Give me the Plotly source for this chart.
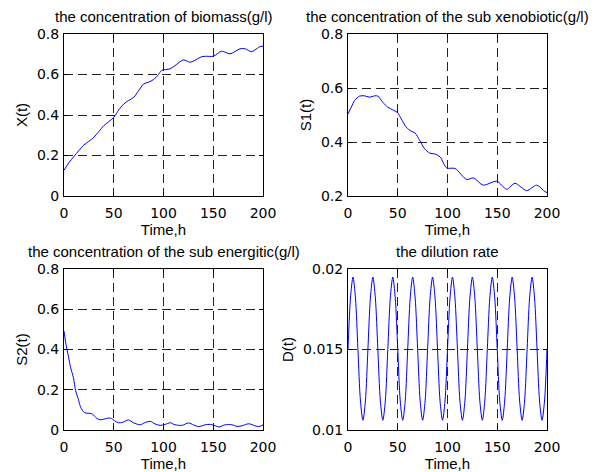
import plotly.graph_objects as go

# ---- data ----
t_X = [0, 5, 10, 15, 20, 25, 30, 35, 40, 45, 50, 55, 60, 65, 70, 75, 80, 85, 90, 95,
       98, 106.5, 111.6, 119.9, 126.6, 130, 138.4, 143.4, 150, 158.5, 166.8, 176.9,
       182, 188.6, 197, 200]
X = [0.127, 0.165, 0.195, 0.225, 0.252, 0.270, 0.290, 0.318, 0.347, 0.367, 0.388,
     0.425, 0.454, 0.472, 0.487, 0.520, 0.553, 0.562, 0.575, 0.600,
     0.620, 0.628, 0.644, 0.672, 0.661, 0.666, 0.688, 0.690, 0.690, 0.715, 0.702,
     0.727, 0.727, 0.713, 0.738, 0.740]

t_S1 = [0, 3.3, 6.7, 11.7, 16.7, 21.7, 26.8, 30, 35, 40, 45, 49.5, 53.5, 58.5, 63.5,
        67.5, 72, 77, 82, 87, 92.5, 99.2, 107.5, 119.3, 126, 136, 149.4, 159.5, 167.8,
        179.6, 189.6, 198, 200]
S1 = [0.504, 0.529, 0.554, 0.570, 0.571, 0.566, 0.571, 0.570, 0.547, 0.529, 0.519,
      0.510, 0.486, 0.455, 0.440, 0.433, 0.406, 0.375, 0.359, 0.356, 0.345, 0.304,
      0.302, 0.261, 0.267, 0.240, 0.255, 0.225, 0.247, 0.220, 0.240, 0.216, 0.213]

t_S2 = [0, 1.7, 4.4, 6.7, 9.4, 11.7, 14.4, 16.8, 19.5, 22.1, 26.2, 28.9, 32.9, 36.2,
        39.6, 43, 47, 50.7, 54.7, 59, 64.8, 69.8, 76.5, 80.5, 86.6, 91.6, 96.6, 101.7,
        106.7, 111.7, 118.5, 125.2, 130.2, 135.2, 142, 147, 152, 155.4, 162, 168.8,
        173.8, 178.9, 185.6, 192, 195.6, 200]
S2 = [0.492, 0.434, 0.366, 0.309, 0.261, 0.195, 0.153, 0.112, 0.091, 0.084, 0.083,
      0.078, 0.058, 0.051, 0.053, 0.058, 0.059, 0.046, 0.036, 0.038, 0.050, 0.036,
      0.026, 0.035, 0.043, 0.030, 0.023, 0.028, 0.036, 0.026, 0.023, 0.035, 0.025,
      0.017, 0.026, 0.028, 0.021, 0.015, 0.026, 0.026, 0.018, 0.021, 0.031, 0.021,
      0.017, 0.025]

t_D = [i * 2.5 for i in range(81)]
D = [0.0150, 0.0182, 0.0195, 0.0182, 0.0150, 0.0118, 0.0106, 0.0118,
     0.0150, 0.0182, 0.0195, 0.0182, 0.0150, 0.0118, 0.0106, 0.0118,
     0.0150, 0.0182, 0.0195, 0.0182, 0.0150, 0.0118, 0.0106, 0.0118,
     0.0150, 0.0182, 0.0195, 0.0182, 0.0150, 0.0118, 0.0106, 0.0118,
     0.0150, 0.0182, 0.0195, 0.0182, 0.0150, 0.0118, 0.0106, 0.0118,
     0.0150, 0.0182, 0.0195, 0.0182, 0.0150, 0.0118, 0.0106, 0.0118,
     0.0150, 0.0182, 0.0195, 0.0182, 0.0150, 0.0118, 0.0106, 0.0118,
     0.0150, 0.0182, 0.0195, 0.0182, 0.0150, 0.0118, 0.0106, 0.0118,
     0.0150, 0.0182, 0.0195, 0.0182, 0.0150, 0.0118, 0.0106, 0.0118,
     0.0150, 0.0182, 0.0195, 0.0182, 0.0150, 0.0118, 0.0106, 0.0118,
     0.0150]

titles = ["the concentration of biomass(g/l)",
          "the concentration of the sub xenobiotic(g/l)",
          "the concentration of the sub energitic(g/l)",
          "the dilution rate"]
ylabels = ["X(t)", "S1(t)", "S2(t)", "D(t)"]
xlabel = "Time,h"
yranges = [[0, 0.8], [0.2, 0.8], [0, 0.8], [0.01, 0.02]]
ydticks = [0.2, 0.2, 0.2, 0.005]

W, H = 598, 472
TXT = "Liberation Sans, Arial, sans-serif"
TICK = "DejaVu Sans"
# overall plotting region in pixels
L, R, T, B = 64, 547, 34, 430
PW, PH = R - L, B - T
# pixel boxes of the four axes: (left, right, top, bottom)
boxes = [(64, 263, 34, 196), (348, 547, 34, 196),
         (64, 263, 269, 430), (348, 547, 269, 430)]

series = [(t_X, X), (t_S1, S1), (t_S2, S2), (t_D, D)]

fig = go.Figure()
for i, ((tt, yy), (l, r, t, b)) in enumerate(zip(series, boxes)):
    n = "" if i == 0 else str(i + 1)
    fig.add_trace(go.Scatter(x=tt, y=yy, mode="lines",
                             line=dict(color="#0000ff", width=1, shape="spline",
                                       smoothing=0.8),
                             xaxis="x" + n, yaxis="y" + n, showlegend=False))
    axcommon = dict(showline=True, linecolor="black", linewidth=1, mirror="ticks",
                    ticks="inside", ticklen=4, tickcolor="black",
                    showgrid=True, gridcolor="#222222", griddash="9px,5px", gridwidth=1,
                    zeroline=False, automargin=False,
                    tickfont=dict(family=TICK, size=14, color="black"))
    fig.layout["xaxis" + n] = dict(
        domain=[(l - L) / PW, (r - L) / PW], range=[0, 200], dtick=50, tick0=0,
        anchor="y" + n, ticklabelstandoff=4,
        title=dict(text=xlabel, font=dict(family=TXT, size=15, color="black"),
                   standoff=2),
        **axcommon)
    fig.layout["yaxis" + n] = dict(
        domain=[(B - b) / PH, (B - t) / PH], range=yranges[i], dtick=ydticks[i],
        tick0=yranges[i][0], anchor="x" + n, ticklabelstandoff=1,
        title=dict(text=ylabels[i], font=dict(family=TXT, size=15, color="black"),
                   standoff=5),
        **axcommon)
    fig.add_annotation(text=titles[i], x=((l + r) / 2 - L) / PW,
                       y=(B - (t - 17.5)) / PH,
                       xref="paper", yref="paper", xanchor="center", yanchor="middle",
                       showarrow=False,
                       font=dict(family=TXT, size=15, color="black"))

fig.update_layout(width=W, height=H,
                  margin=dict(l=L, r=W - R, t=T, b=H - B, autoexpand=False),
                  paper_bgcolor="white", plot_bgcolor="white")
fig.write_html("out.html", config={"displayModeBar": False},
               post_script="document.body.style.margin='0px';document.body.style.padding='0px';")
